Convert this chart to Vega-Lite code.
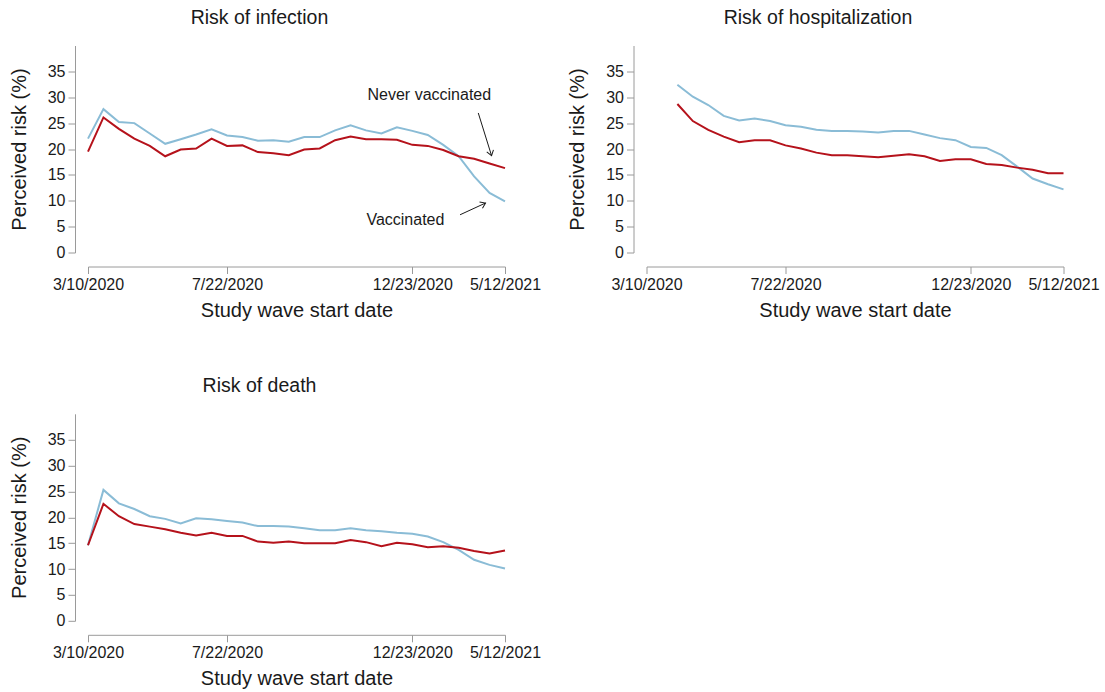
{
  "$schema": "https://vega.github.io/schema/vega-lite/v6.json",
  "padding": {"left": 9, "top": 7.5, "right": 5, "bottom": 5},
  "background": "white",
  "config": {
    "font": "Liberation Sans",
    "view": {"stroke": null},
    "axis": {
      "grid": false,
      "domainColor": "#9a9a9a",
      "tickColor": "#9a9a9a",
      "tickSize": 7,
      "labelPadding": 3,
      "labelFontSize": 16,
      "labelColor": "#1a1a1a",
      "titleFontSize": 20,
      "titleFontWeight": "normal",
      "titleColor": "#1a1a1a"
    },
    "title": {"fontSize": 19.5, "fontWeight": "normal", "color": "#1a1a1a", "frame": "group", "anchor": "middle", "dx": -37, "offset": 17}
  },
  "datasets": {
    "waves": [
      {"outcome": "infection", "group": "Vaccinated", "wave": 0, "pct": 22.0},
      {"outcome": "infection", "group": "Vaccinated", "wave": 1, "pct": 27.7},
      {"outcome": "infection", "group": "Vaccinated", "wave": 2, "pct": 25.2},
      {"outcome": "infection", "group": "Vaccinated", "wave": 3, "pct": 25.0},
      {"outcome": "infection", "group": "Vaccinated", "wave": 4, "pct": 23.0},
      {"outcome": "infection", "group": "Vaccinated", "wave": 5, "pct": 21.0},
      {"outcome": "infection", "group": "Vaccinated", "wave": 6, "pct": 21.9},
      {"outcome": "infection", "group": "Vaccinated", "wave": 7, "pct": 22.8},
      {"outcome": "infection", "group": "Vaccinated", "wave": 8, "pct": 23.8},
      {"outcome": "infection", "group": "Vaccinated", "wave": 9, "pct": 22.6},
      {"outcome": "infection", "group": "Vaccinated", "wave": 10, "pct": 22.3},
      {"outcome": "infection", "group": "Vaccinated", "wave": 11, "pct": 21.6},
      {"outcome": "infection", "group": "Vaccinated", "wave": 12, "pct": 21.7},
      {"outcome": "infection", "group": "Vaccinated", "wave": 13, "pct": 21.4},
      {"outcome": "infection", "group": "Vaccinated", "wave": 14, "pct": 22.3},
      {"outcome": "infection", "group": "Vaccinated", "wave": 15, "pct": 22.3},
      {"outcome": "infection", "group": "Vaccinated", "wave": 16, "pct": 23.6},
      {"outcome": "infection", "group": "Vaccinated", "wave": 17, "pct": 24.6},
      {"outcome": "infection", "group": "Vaccinated", "wave": 18, "pct": 23.6},
      {"outcome": "infection", "group": "Vaccinated", "wave": 19, "pct": 23.0},
      {"outcome": "infection", "group": "Vaccinated", "wave": 20, "pct": 24.2},
      {"outcome": "infection", "group": "Vaccinated", "wave": 21, "pct": 23.5},
      {"outcome": "infection", "group": "Vaccinated", "wave": 22, "pct": 22.7},
      {"outcome": "infection", "group": "Vaccinated", "wave": 23, "pct": 20.8},
      {"outcome": "infection", "group": "Vaccinated", "wave": 24, "pct": 18.6},
      {"outcome": "infection", "group": "Vaccinated", "wave": 25, "pct": 14.7},
      {"outcome": "infection", "group": "Vaccinated", "wave": 26, "pct": 11.5},
      {"outcome": "infection", "group": "Vaccinated", "wave": 27, "pct": 9.9},
      {"outcome": "infection", "group": "Never vaccinated", "wave": 0, "pct": 19.5},
      {"outcome": "infection", "group": "Never vaccinated", "wave": 1, "pct": 26.1},
      {"outcome": "infection", "group": "Never vaccinated", "wave": 2, "pct": 23.9},
      {"outcome": "infection", "group": "Never vaccinated", "wave": 3, "pct": 22.0},
      {"outcome": "infection", "group": "Never vaccinated", "wave": 4, "pct": 20.6},
      {"outcome": "infection", "group": "Never vaccinated", "wave": 5, "pct": 18.6},
      {"outcome": "infection", "group": "Never vaccinated", "wave": 6, "pct": 19.9},
      {"outcome": "infection", "group": "Never vaccinated", "wave": 7, "pct": 20.1},
      {"outcome": "infection", "group": "Never vaccinated", "wave": 8, "pct": 22.0},
      {"outcome": "infection", "group": "Never vaccinated", "wave": 9, "pct": 20.6},
      {"outcome": "infection", "group": "Never vaccinated", "wave": 10, "pct": 20.7},
      {"outcome": "infection", "group": "Never vaccinated", "wave": 11, "pct": 19.4},
      {"outcome": "infection", "group": "Never vaccinated", "wave": 12, "pct": 19.2},
      {"outcome": "infection", "group": "Never vaccinated", "wave": 13, "pct": 18.8},
      {"outcome": "infection", "group": "Never vaccinated", "wave": 14, "pct": 19.9},
      {"outcome": "infection", "group": "Never vaccinated", "wave": 15, "pct": 20.1},
      {"outcome": "infection", "group": "Never vaccinated", "wave": 16, "pct": 21.7},
      {"outcome": "infection", "group": "Never vaccinated", "wave": 17, "pct": 22.4},
      {"outcome": "infection", "group": "Never vaccinated", "wave": 18, "pct": 21.9},
      {"outcome": "infection", "group": "Never vaccinated", "wave": 19, "pct": 21.9},
      {"outcome": "infection", "group": "Never vaccinated", "wave": 20, "pct": 21.8},
      {"outcome": "infection", "group": "Never vaccinated", "wave": 21, "pct": 20.8},
      {"outcome": "infection", "group": "Never vaccinated", "wave": 22, "pct": 20.6},
      {"outcome": "infection", "group": "Never vaccinated", "wave": 23, "pct": 19.8},
      {"outcome": "infection", "group": "Never vaccinated", "wave": 24, "pct": 18.6},
      {"outcome": "infection", "group": "Never vaccinated", "wave": 25, "pct": 18.1},
      {"outcome": "infection", "group": "Never vaccinated", "wave": 26, "pct": 17.2},
      {"outcome": "infection", "group": "Never vaccinated", "wave": 27, "pct": 16.3},
      {"outcome": "hospitalization", "group": "Vaccinated", "wave": 2, "pct": 32.4},
      {"outcome": "hospitalization", "group": "Vaccinated", "wave": 3, "pct": 30.1},
      {"outcome": "hospitalization", "group": "Vaccinated", "wave": 4, "pct": 28.5},
      {"outcome": "hospitalization", "group": "Vaccinated", "wave": 5, "pct": 26.4},
      {"outcome": "hospitalization", "group": "Vaccinated", "wave": 6, "pct": 25.5},
      {"outcome": "hospitalization", "group": "Vaccinated", "wave": 7, "pct": 25.9},
      {"outcome": "hospitalization", "group": "Vaccinated", "wave": 8, "pct": 25.4},
      {"outcome": "hospitalization", "group": "Vaccinated", "wave": 9, "pct": 24.6},
      {"outcome": "hospitalization", "group": "Vaccinated", "wave": 10, "pct": 24.3},
      {"outcome": "hospitalization", "group": "Vaccinated", "wave": 11, "pct": 23.7},
      {"outcome": "hospitalization", "group": "Vaccinated", "wave": 12, "pct": 23.5},
      {"outcome": "hospitalization", "group": "Vaccinated", "wave": 13, "pct": 23.5},
      {"outcome": "hospitalization", "group": "Vaccinated", "wave": 14, "pct": 23.4},
      {"outcome": "hospitalization", "group": "Vaccinated", "wave": 15, "pct": 23.2},
      {"outcome": "hospitalization", "group": "Vaccinated", "wave": 16, "pct": 23.5},
      {"outcome": "hospitalization", "group": "Vaccinated", "wave": 17, "pct": 23.5},
      {"outcome": "hospitalization", "group": "Vaccinated", "wave": 18, "pct": 22.8},
      {"outcome": "hospitalization", "group": "Vaccinated", "wave": 19, "pct": 22.1},
      {"outcome": "hospitalization", "group": "Vaccinated", "wave": 20, "pct": 21.7},
      {"outcome": "hospitalization", "group": "Vaccinated", "wave": 21, "pct": 20.4},
      {"outcome": "hospitalization", "group": "Vaccinated", "wave": 22, "pct": 20.2},
      {"outcome": "hospitalization", "group": "Vaccinated", "wave": 23, "pct": 18.8},
      {"outcome": "hospitalization", "group": "Vaccinated", "wave": 24, "pct": 16.6},
      {"outcome": "hospitalization", "group": "Vaccinated", "wave": 25, "pct": 14.3},
      {"outcome": "hospitalization", "group": "Vaccinated", "wave": 26, "pct": 13.2},
      {"outcome": "hospitalization", "group": "Vaccinated", "wave": 27, "pct": 12.2},
      {"outcome": "hospitalization", "group": "Never vaccinated", "wave": 2, "pct": 28.7},
      {"outcome": "hospitalization", "group": "Never vaccinated", "wave": 3, "pct": 25.4},
      {"outcome": "hospitalization", "group": "Never vaccinated", "wave": 4, "pct": 23.7},
      {"outcome": "hospitalization", "group": "Never vaccinated", "wave": 5, "pct": 22.4},
      {"outcome": "hospitalization", "group": "Never vaccinated", "wave": 6, "pct": 21.3},
      {"outcome": "hospitalization", "group": "Never vaccinated", "wave": 7, "pct": 21.7},
      {"outcome": "hospitalization", "group": "Never vaccinated", "wave": 8, "pct": 21.7},
      {"outcome": "hospitalization", "group": "Never vaccinated", "wave": 9, "pct": 20.7},
      {"outcome": "hospitalization", "group": "Never vaccinated", "wave": 10, "pct": 20.1},
      {"outcome": "hospitalization", "group": "Never vaccinated", "wave": 11, "pct": 19.3},
      {"outcome": "hospitalization", "group": "Never vaccinated", "wave": 12, "pct": 18.8},
      {"outcome": "hospitalization", "group": "Never vaccinated", "wave": 13, "pct": 18.8},
      {"outcome": "hospitalization", "group": "Never vaccinated", "wave": 14, "pct": 18.6},
      {"outcome": "hospitalization", "group": "Never vaccinated", "wave": 15, "pct": 18.4},
      {"outcome": "hospitalization", "group": "Never vaccinated", "wave": 16, "pct": 18.7},
      {"outcome": "hospitalization", "group": "Never vaccinated", "wave": 17, "pct": 19.0},
      {"outcome": "hospitalization", "group": "Never vaccinated", "wave": 18, "pct": 18.6},
      {"outcome": "hospitalization", "group": "Never vaccinated", "wave": 19, "pct": 17.7},
      {"outcome": "hospitalization", "group": "Never vaccinated", "wave": 20, "pct": 18.0},
      {"outcome": "hospitalization", "group": "Never vaccinated", "wave": 21, "pct": 18.0},
      {"outcome": "hospitalization", "group": "Never vaccinated", "wave": 22, "pct": 17.1},
      {"outcome": "hospitalization", "group": "Never vaccinated", "wave": 23, "pct": 16.9},
      {"outcome": "hospitalization", "group": "Never vaccinated", "wave": 24, "pct": 16.4},
      {"outcome": "hospitalization", "group": "Never vaccinated", "wave": 25, "pct": 16.0},
      {"outcome": "hospitalization", "group": "Never vaccinated", "wave": 26, "pct": 15.3},
      {"outcome": "hospitalization", "group": "Never vaccinated", "wave": 27, "pct": 15.3},
      {"outcome": "death", "group": "Vaccinated", "wave": 0, "pct": 14.6},
      {"outcome": "death", "group": "Vaccinated", "wave": 1, "pct": 25.3},
      {"outcome": "death", "group": "Vaccinated", "wave": 2, "pct": 22.7},
      {"outcome": "death", "group": "Vaccinated", "wave": 3, "pct": 21.6},
      {"outcome": "death", "group": "Vaccinated", "wave": 4, "pct": 20.2},
      {"outcome": "death", "group": "Vaccinated", "wave": 5, "pct": 19.7},
      {"outcome": "death", "group": "Vaccinated", "wave": 6, "pct": 18.8},
      {"outcome": "death", "group": "Vaccinated", "wave": 7, "pct": 19.8},
      {"outcome": "death", "group": "Vaccinated", "wave": 8, "pct": 19.6},
      {"outcome": "death", "group": "Vaccinated", "wave": 9, "pct": 19.3},
      {"outcome": "death", "group": "Vaccinated", "wave": 10, "pct": 19.0},
      {"outcome": "death", "group": "Vaccinated", "wave": 11, "pct": 18.3},
      {"outcome": "death", "group": "Vaccinated", "wave": 12, "pct": 18.3},
      {"outcome": "death", "group": "Vaccinated", "wave": 13, "pct": 18.2},
      {"outcome": "death", "group": "Vaccinated", "wave": 14, "pct": 17.9},
      {"outcome": "death", "group": "Vaccinated", "wave": 15, "pct": 17.5},
      {"outcome": "death", "group": "Vaccinated", "wave": 16, "pct": 17.5},
      {"outcome": "death", "group": "Vaccinated", "wave": 17, "pct": 17.9},
      {"outcome": "death", "group": "Vaccinated", "wave": 18, "pct": 17.5},
      {"outcome": "death", "group": "Vaccinated", "wave": 19, "pct": 17.3},
      {"outcome": "death", "group": "Vaccinated", "wave": 20, "pct": 17.0},
      {"outcome": "death", "group": "Vaccinated", "wave": 21, "pct": 16.8},
      {"outcome": "death", "group": "Vaccinated", "wave": 22, "pct": 16.3},
      {"outcome": "death", "group": "Vaccinated", "wave": 23, "pct": 15.2},
      {"outcome": "death", "group": "Vaccinated", "wave": 24, "pct": 13.7},
      {"outcome": "death", "group": "Vaccinated", "wave": 25, "pct": 11.8},
      {"outcome": "death", "group": "Vaccinated", "wave": 26, "pct": 10.8},
      {"outcome": "death", "group": "Vaccinated", "wave": 27, "pct": 10.1},
      {"outcome": "death", "group": "Never vaccinated", "wave": 0, "pct": 14.6},
      {"outcome": "death", "group": "Never vaccinated", "wave": 1, "pct": 22.6},
      {"outcome": "death", "group": "Never vaccinated", "wave": 2, "pct": 20.2},
      {"outcome": "death", "group": "Never vaccinated", "wave": 3, "pct": 18.7},
      {"outcome": "death", "group": "Never vaccinated", "wave": 4, "pct": 18.2},
      {"outcome": "death", "group": "Never vaccinated", "wave": 5, "pct": 17.7},
      {"outcome": "death", "group": "Never vaccinated", "wave": 6, "pct": 17.0},
      {"outcome": "death", "group": "Never vaccinated", "wave": 7, "pct": 16.5},
      {"outcome": "death", "group": "Never vaccinated", "wave": 8, "pct": 17.0},
      {"outcome": "death", "group": "Never vaccinated", "wave": 9, "pct": 16.4},
      {"outcome": "death", "group": "Never vaccinated", "wave": 10, "pct": 16.4},
      {"outcome": "death", "group": "Never vaccinated", "wave": 11, "pct": 15.3},
      {"outcome": "death", "group": "Never vaccinated", "wave": 12, "pct": 15.1},
      {"outcome": "death", "group": "Never vaccinated", "wave": 13, "pct": 15.3},
      {"outcome": "death", "group": "Never vaccinated", "wave": 14, "pct": 15.0},
      {"outcome": "death", "group": "Never vaccinated", "wave": 15, "pct": 15.0},
      {"outcome": "death", "group": "Never vaccinated", "wave": 16, "pct": 15.0},
      {"outcome": "death", "group": "Never vaccinated", "wave": 17, "pct": 15.6},
      {"outcome": "death", "group": "Never vaccinated", "wave": 18, "pct": 15.2},
      {"outcome": "death", "group": "Never vaccinated", "wave": 19, "pct": 14.4},
      {"outcome": "death", "group": "Never vaccinated", "wave": 20, "pct": 15.1},
      {"outcome": "death", "group": "Never vaccinated", "wave": 21, "pct": 14.8},
      {"outcome": "death", "group": "Never vaccinated", "wave": 22, "pct": 14.2},
      {"outcome": "death", "group": "Never vaccinated", "wave": 23, "pct": 14.4},
      {"outcome": "death", "group": "Never vaccinated", "wave": 24, "pct": 14.1},
      {"outcome": "death", "group": "Never vaccinated", "wave": 25, "pct": 13.5},
      {"outcome": "death", "group": "Never vaccinated", "wave": 26, "pct": 13.0},
      {"outcome": "death", "group": "Never vaccinated", "wave": 27, "pct": 13.6}
    ],
    "labels": [
      {"label": "Never vaccinated", "wave": 22.1, "pct": 29.4},
      {"label": "Vaccinated", "wave": 20.55, "pct": 5.36}
    ],
    "arrows": [
      {"label": "Never vaccinated", "wave": 26.13, "pct": 18.7, "wave_from": 25.27, "pct_from": 26.96},
      {"label": "Vaccinated", "wave": 25.74, "pct": 9.56, "wave_from": 24.09, "pct_from": 7.29}
    ]
  },
  "columns": 2,
  "bounds": "flush",
  "spacing": {"row": 161.3, "column": 141.5},
  "concat": [
    {
      "title": {"text": "Risk of infection"},
      "width": 417,
      "height": 207,
      "encoding": {
        "x": {"field": "wave", "type": "quantitative", "scale": {"domain": [0, 27], "nice": false, "zero": false},
          "axis": {"title": "Study wave start date", "values": [0, 9, 21, 27], "labelExpr": "datum.value == 0 ? '3/10/2020' : datum.value == 9 ? '7/22/2020' : datum.value == 21 ? '12/23/2020' : '5/12/2021'", "offset": 14, "labelFlush": false, "labelOverlap": false, "titlePadding": 8}},
        "y": {"field": "pct", "type": "quantitative", "scale": {"domain": [0, 40], "nice": false},
          "axis": {"title": "Perceived risk (%)", "values": [0, 5, 10, 15, 20, 25, 30, 35], "offset": 13, "titlePadding": 18}}
      },
      "layer": [
        {
          "data": {"name": "waves"},
          "transform": [{"filter": "datum.outcome === 'infection'"}],
          "mark": {"type": "line", "strokeWidth": 2},
          "encoding": {
            "color": {"field": "group", "type": "nominal", "scale": {"domain": ["Never vaccinated", "Vaccinated"], "range": ["#b5121b", "#8abcd6"]}, "legend": null}
          }
        },
        {
          "data": {"name": "labels"},
          "mark": {"type": "text", "fontSize": 16, "color": "#1a1a1a", "align": "center", "baseline": "alphabetic"},
          "encoding": {
            "text": {"field": "label"}
          }
        },
        {
          "data": {"name": "arrows"},
          "mark": {"type": "rule", "color": "#1a1a1a", "strokeWidth": 1},
          "encoding": {
            "x2": {"field": "wave_from"},
            "y2": {"field": "pct_from"}
          }
        },
        {
          "data": {"name": "arrows"},
          "mark": {"type": "point", "shape": "M-0.7,1L0,0L0.7,1", "filled": false, "color": "#1a1a1a", "strokeWidth": 1, "size": 100, "opacity": 1},
          "encoding": {
            "angle": {"field": "label", "type": "nominal", "scale": {"domain": ["Never vaccinated", "Vaccinated"], "range": [163, 65]}, "legend": null}
          }
        }
      ]
    },
    {
      "title": {"text": "Risk of hospitalization"},
      "width": 417,
      "height": 207,
      "data": {"name": "waves"},
      "transform": [{"filter": "datum.outcome === 'hospitalization'"}],
      "mark": {"type": "line", "strokeWidth": 2},
      "encoding": {
        "x": {"field": "wave", "type": "quantitative", "scale": {"domain": [0, 27], "nice": false, "zero": false},
          "axis": {"title": "Study wave start date", "values": [0, 9, 21, 27], "labelExpr": "datum.value == 0 ? '3/10/2020' : datum.value == 9 ? '7/22/2020' : datum.value == 21 ? '12/23/2020' : '5/12/2021'", "offset": 14, "labelFlush": false, "labelOverlap": false, "titlePadding": 8}},
        "y": {"field": "pct", "type": "quantitative", "scale": {"domain": [0, 40], "nice": false},
          "axis": {"title": "Perceived risk (%)", "values": [0, 5, 10, 15, 20, 25, 30, 35], "offset": 13, "titlePadding": 18}},
        "color": {"field": "group", "type": "nominal", "scale": {"domain": ["Never vaccinated", "Vaccinated"], "range": ["#b5121b", "#8abcd6"]}, "legend": null}
      }
    },
    {
      "title": {"text": "Risk of death"},
      "width": 417,
      "height": 207,
      "data": {"name": "waves"},
      "transform": [{"filter": "datum.outcome === 'death'"}],
      "mark": {"type": "line", "strokeWidth": 2},
      "encoding": {
        "x": {"field": "wave", "type": "quantitative", "scale": {"domain": [0, 27], "nice": false, "zero": false},
          "axis": {"title": "Study wave start date", "values": [0, 9, 21, 27], "labelExpr": "datum.value == 0 ? '3/10/2020' : datum.value == 9 ? '7/22/2020' : datum.value == 21 ? '12/23/2020' : '5/12/2021'", "offset": 14, "labelFlush": false, "labelOverlap": false, "titlePadding": 8}},
        "y": {"field": "pct", "type": "quantitative", "scale": {"domain": [0, 40], "nice": false},
          "axis": {"title": "Perceived risk (%)", "values": [0, 5, 10, 15, 20, 25, 30, 35], "offset": 13, "titlePadding": 18}},
        "color": {"field": "group", "type": "nominal", "scale": {"domain": ["Never vaccinated", "Vaccinated"], "range": ["#b5121b", "#8abcd6"]}, "legend": null}
      }
    }
  ]
}
